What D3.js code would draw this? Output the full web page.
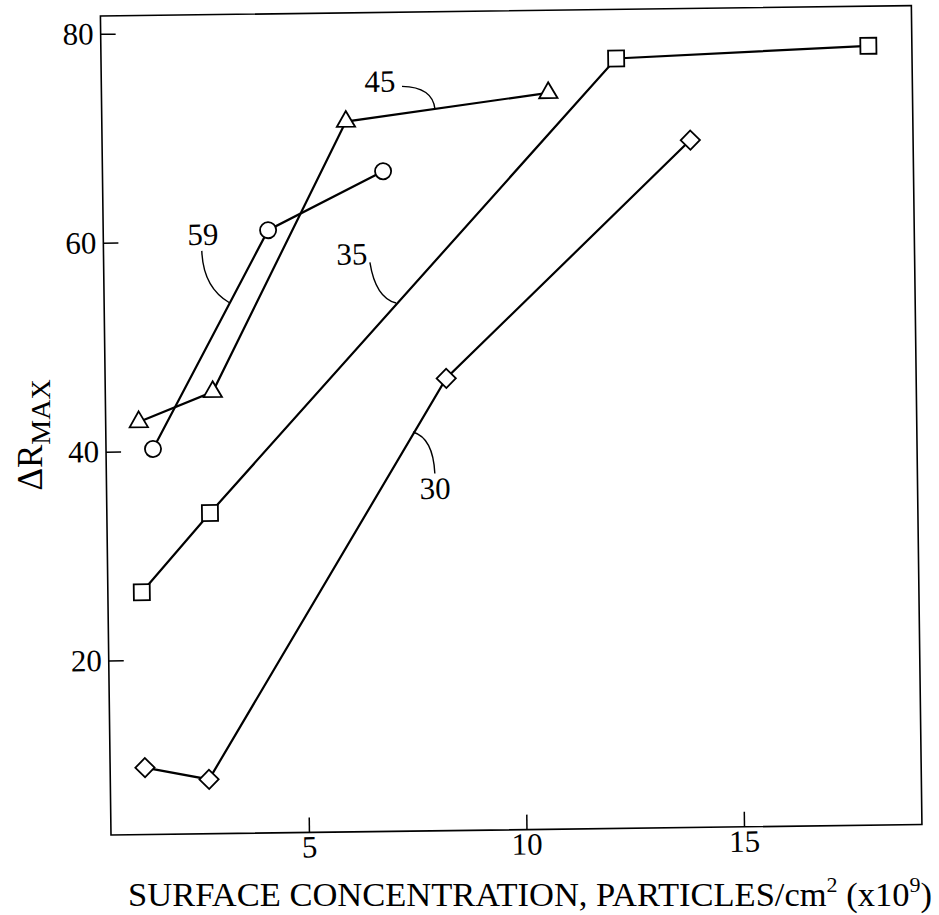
<!DOCTYPE html>
<html><head><meta charset="utf-8">
<script src="https://cdn.jsdelivr.net/npm/d3@7"></script>
<style>body{margin:0;background:#fff}svg{display:block}</style></head>
<body><svg id="c" width="939" height="915"></svg>
<script>
// ---- data ----
const xTicks = [5, 10, 15];
const yTicks = [20, 40, 60, 80];
const x30 = [1.25, 2.72, 8.29, 13.97];
const y30 = [9.7, 8.5, 46.6, 69.1];
const x35 = [1.23, 2.82, 12.29, 18.09];
const y35 = [26.5, 34.0, 77.0, 77.9];
const x45 = [1.21, 2.92, 6.06, 10.72];
const y45 = [42.8, 45.6, 71.3, 73.8];
const x59 = [1.53, 4.24, 6.90];
const y59 = [40.2, 61.0, 66.5];
const seriesNames = ["30", "35", "45", "59"];
// label text anchor + leader curve (start, control, end) in data units
const lab30 = {t:[8.0,35.07], s:[7.51,41.5], c:[7.97,40.9], e:[8.00,37.5]};
const lab35 = {t:[6.16,57.6], s:[6.57,57.8], c:[6.69,54.4], e:[7.16,53.87]};
const lab45 = {t:[6.85,74.1], s:[7.36,74.6], c:[8.06,74.5], e:[8.11,72.4]};
const lab59 = {t:[2.74,59.67], s:[2.71,59.1], c:[2.73,55.6], e:[3.33,54.1]};

const svg = d3.select('#c');
const W = 939, H = 915;
svg.append('rect').attr('width', W).attr('height', H).attr('fill', '#fff');
const L = 111, R = 922, T = 16, B = 835;
const FONT = "'Liberation Serif','Times New Roman',serif";
const x = d3.scaleLinear().domain([0.45, 19.09]).range([L, R]);
const y = d3.scaleLinear().domain([3.3, 81.7]).range([B, T]);

const g = svg.append('g').attr('transform', `rotate(-0.74,${L},${B})`);

g.append('rect').attr('x', L).attr('y', T).attr('width', R - L).attr('height', B - T)
  .attr('fill', 'none').attr('stroke', '#000').attr('stroke-width', 1.6);

const xa = g.append('g').attr('transform', `translate(0,${B})`)
  .call(d3.axisBottom(x).tickValues(xTicks).tickSizeInner(-15).tickSizeOuter(0).tickPadding(3).tickFormat(d3.format('d')));
const ya = g.append('g').attr('transform', `translate(${L},0)`)
  .call(d3.axisLeft(y).tickValues(yTicks).tickSizeInner(-15).tickSizeOuter(0).tickPadding(7).tickFormat(d3.format('d')));
[xa, ya].forEach(a => {
  a.select('.domain').remove();
  a.selectAll('line').attr('stroke', '#000').attr('stroke-width', 1.5);
  a.selectAll('text').attr('font-family', FONT).attr('font-size', 31).attr('fill', '#000');
});

const line = d3.line().x(d => x(d[0])).y(d => y(d[1]));
const series = [
  {xs: x30, ys: y30, sym: 'diamond'},
  {xs: x35, ys: y35, sym: 'square'},
  {xs: x45, ys: y45, sym: 'triangle'},
  {xs: x59, ys: y59, sym: 'circle'}
];
const symGen = {
  diamond: d3.symbol().type(d3.symbolSquare).size(185),
  square: d3.symbol().type(d3.symbolSquare).size(256),
  triangle: d3.symbol().type(d3.symbolTriangle).size(145),
  circle: d3.symbol().type(d3.symbolCircle).size(205)
};
series.forEach(s => {
  const pts = s.xs.map((v, i) => [v, s.ys[i]]);
  g.append('path').datum(pts).attr('d', line).attr('fill', 'none')
    .attr('stroke', '#000').attr('stroke-width', 2.2);
  g.selectAll(null).data(pts).enter().append('path')
    .attr('d', symGen[s.sym]())
    .attr('transform', d => `translate(${x(d[0])},${y(d[1])})` + (s.sym === 'diamond' ? ' rotate(45)' : ''))
    .attr('fill', '#fff').attr('stroke', '#000').attr('stroke-width', 1.8);
});

// annotations
[[lab30, seriesNames[0]], [lab35, seriesNames[1]], [lab45, seriesNames[2]], [lab59, seriesNames[3]]].forEach(([a, name]) => {
  g.append('path')
    .attr('d', `M${x(a.s[0])},${y(a.s[1])} Q${x(a.c[0])},${y(a.c[1])} ${x(a.e[0])},${y(a.e[1])}`)
    .attr('fill', 'none').attr('stroke', '#000').attr('stroke-width', 1.4);
  g.append('text').attr('x', x(a.t[0])).attr('y', y(a.t[1]))
    .attr('text-anchor', 'middle').attr('font-family', FONT).attr('font-size', 31).text(name);
});

// axis titles
const xt = svg.append('text').attr('x', 530).attr('y', 906).attr('text-anchor', 'middle')
  .attr('font-family', FONT).attr('font-size', 34.5);
xt.append('tspan').text('SURFACE CONCENTRATION, PARTICLES/cm');
xt.append('tspan').attr('font-size', 22).attr('dy', -14).text('2');
xt.append('tspan').attr('dy', 14).text(' (x10');
xt.append('tspan').attr('font-size', 22).attr('dy', -14).text('9');
xt.append('tspan').attr('dy', 14).text(')');

const yt = svg.append('text').attr('transform', 'translate(42,435) rotate(-90)')
  .attr('text-anchor', 'middle').attr('font-family', FONT).attr('font-size', 35);
yt.append('tspan').text('ΔR');
yt.append('tspan').attr('font-size', 28).attr('dy', 8).text('MAX');
</script></body></html>
